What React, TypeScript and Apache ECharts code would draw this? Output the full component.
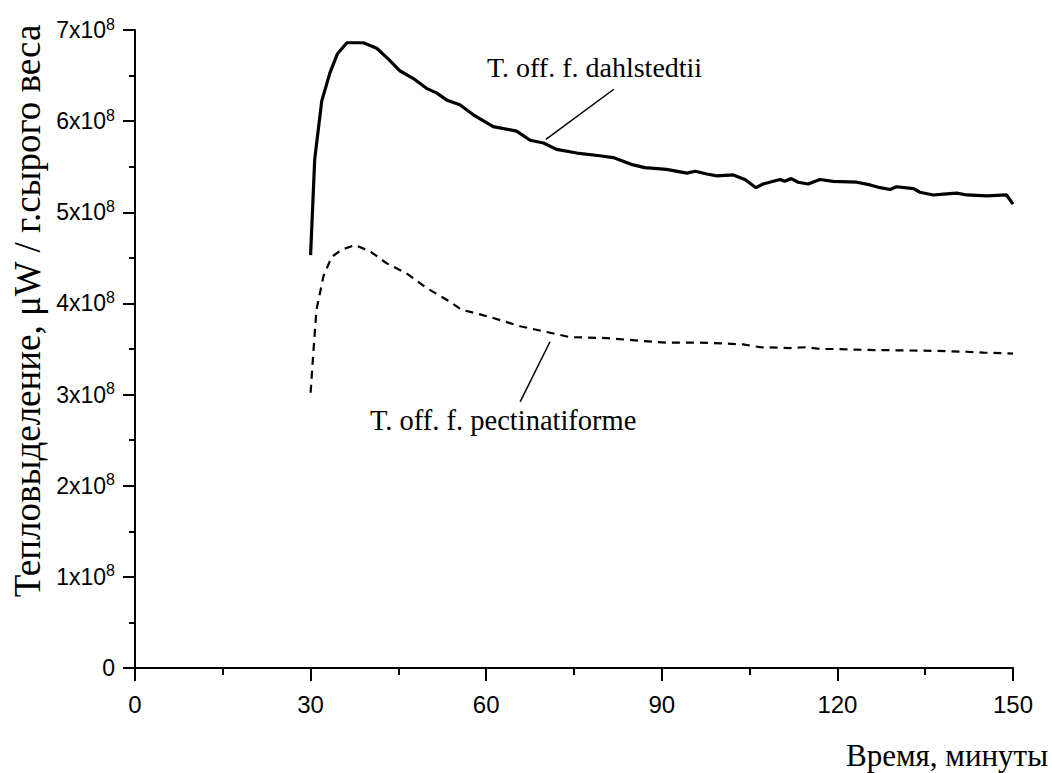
import React, { useEffect, useRef } from "react";
import * as echarts from "echarts";

// time (minutes), heat production (units of 1e8 µW / g fresh weight)
const dahlstedtiiTime = [
  30.0, 30.7, 31.9, 33.3, 34.6, 36.2, 39.0, 41.3, 43.3, 45.3, 47.5, 49.8, 51.5, 53.3, 55.5, 57.8,
  61.2, 65.2, 67.5, 69.8, 72.0, 75.5, 79.4, 81.7, 85.1, 87.1, 90.8, 94.3, 95.7, 97.7, 99.4, 102.2,
  104.2, 106.1, 107.3, 110.2, 111.0, 112.1, 113.3, 115.0, 117.0, 119.3, 123.3, 125.6, 127.3, 129.0,
  130.1, 133.0, 134.1, 136.4, 138.1, 140.4, 142.1, 145.5, 148.9, 150.0,
];
const dahlstedtiiValue = [
  4.53, 5.58, 6.22, 6.53, 6.74, 6.86, 6.86, 6.8, 6.68, 6.55, 6.47, 6.36, 6.31, 6.23, 6.18, 6.07,
  5.94, 5.89, 5.79, 5.76, 5.69, 5.65, 5.62, 5.6, 5.52, 5.49, 5.47, 5.43, 5.45, 5.42, 5.4, 5.41,
  5.36, 5.27, 5.31, 5.36, 5.34, 5.37, 5.33, 5.31, 5.36, 5.34, 5.33, 5.3, 5.27, 5.25,
  5.28, 5.26, 5.22, 5.19, 5.2, 5.21, 5.19, 5.18, 5.19, 5.09,
];

const pectinatiformeTime = [
  30.0, 30.5, 31.0, 32.2, 33.6, 35.3, 37.6, 40.2, 43.0, 46.4, 49.8, 53.8, 55.8, 58.4, 61.2, 65.8,
  71.5, 74.3, 80.6, 86.3, 90.8, 96.5, 101.1, 103.9, 106.8, 111.9, 114.8, 117.0, 119.3, 125.0,
  136.4, 142.1, 145.0, 150.0,
];
const pectinatiformeValue = [
  3.02, 3.49, 3.93, 4.3, 4.51, 4.59, 4.64, 4.57, 4.44, 4.33, 4.17, 4.02, 3.93, 3.89, 3.84, 3.75,
  3.67, 3.63, 3.62, 3.59, 3.57, 3.57, 3.56, 3.55, 3.52, 3.51, 3.52, 3.5, 3.5, 3.49,
  3.48, 3.47, 3.46, 3.45,
];

// leader lines (data coordinates): [from, to]
const dahlstedtiiLeader = [[70.2, 5.8], [81.8, 6.35]];
const pectinatiformeLeader = [[70.9, 3.58], [65.8, 2.92]];

const xTicks = { min: 0, max: 150, interval: 30 };
const yTicks = { min: 0, max: 7, interval: 1 };

const seriesNames = ["T. off. f. dahlstedtii", "T. off. f. pectinatiforme"];
const xTitle = "Время, минуты";
const yTitle = "Тепловыделение, \u03BCW / г.сырого веса";

const SANS = "'Liberation Sans Narrow', 'Liberation Sans', Arial, sans-serif";
const SERIF = "'Liberation Serif', 'Times New Roman', serif";

export default function App() {
  const ref = useRef<HTMLDivElement>(null);
  useEffect(() => {
    if (!ref.current) return;
    const chart = echarts.init(ref.current, undefined, { renderer: "svg" });
    const zip = (t: number[], v: number[]) => t.map((x, i) => [x, v[i]]);
    const axisLine = { show: true, onZero: false, lineStyle: { color: "#000", width: 2 } };
    chart.setOption({
      animation: false,
      backgroundColor: "#fff",
      grid: { left: 135, right: 39, top: 30, bottom: 105, containLabel: false },
      xAxis: {
        type: "value",
        min: xTicks.min,
        max: xTicks.max,
        interval: xTicks.interval,
        axisLine,
        axisTick: { show: true, length: 13, lineStyle: { color: "#000", width: 2 } },
        minorTick: { show: true, splitNumber: 2, length: 7, lineStyle: { color: "#000", width: 2 } },
        splitLine: { show: false },
        axisLabel: { color: "#000", fontFamily: SANS, fontSize: 24, margin: 24 },
      },
      yAxis: {
        type: "value",
        min: yTicks.min,
        max: yTicks.max,
        interval: yTicks.interval,
        axisLine,
        axisTick: { show: true, length: 12, lineStyle: { color: "#000", width: 2 } },
        minorTick: { show: true, splitNumber: 2, length: 6, lineStyle: { color: "#000", width: 2 } },
        splitLine: { show: false },
        axisLabel: {
          color: "#000",
          fontFamily: SANS,
          fontSize: 23,
          margin: 20,
          formatter: (v: number) => (v === 0 ? "0" : `${v}x10{sup|8}`),
          rich: {
            sup: { fontFamily: SANS, fontSize: 16, color: "#000", padding: [0, 0, 12, 0] },
          },
        },
      },
      series: [
        {
          name: seriesNames[0],
          type: "line",
          data: zip(dahlstedtiiTime, dahlstedtiiValue),
          showSymbol: false,
          symbol: "none",
          lineStyle: { color: "#000", width: 3.2 },
          markLine: {
            silent: true,
            symbol: ["none", "none"],
            label: { show: false },
            lineStyle: { color: "#000", width: 1.5, type: "solid" },
            data: [[{ coord: dahlstedtiiLeader[0] }, { coord: dahlstedtiiLeader[1] }]],
          },
        },
        {
          name: seriesNames[1],
          type: "line",
          data: zip(pectinatiformeTime, pectinatiformeValue),
          showSymbol: false,
          symbol: "none",
          lineStyle: { color: "#000", width: 2.2, type: [8, 6] },
          markLine: {
            silent: true,
            symbol: ["none", "none"],
            label: { show: false },
            lineStyle: { color: "#000", width: 1.5, type: "solid" },
            data: [[{ coord: pectinatiformeLeader[0] }, { coord: pectinatiformeLeader[1] }]],
          },
        },
      ],
      graphic: [
        {
          type: "text",
          x: 487,
          y: 67,
          style: { text: seriesNames[0], font: `28px ${SERIF}`, fill: "#000", textAlign: "left", textVerticalAlign: "middle" },
        },
        {
          type: "text",
          x: 370,
          y: 420,
          style: { text: seriesNames[1], font: `28.5px ${SERIF}`, fill: "#000", textAlign: "left", textVerticalAlign: "middle" },
        },
        {
          type: "text",
          x: 1048,
          y: 755,
          style: { text: xTitle, font: `31px ${SERIF}`, fill: "#000", textAlign: "right", textVerticalAlign: "middle" },
        },
        {
          type: "text",
          x: 27,
          y: 311,
          rotation: Math.PI / 2,
          style: { text: yTitle, font: `37px ${SERIF}`, fill: "#000", textAlign: "center", textVerticalAlign: "middle" },
        },
      ],
    });
    return () => chart.dispose();
  }, []);
  return (
    <div
      ref={ref}
      style={{ position: "fixed", left: 0, top: 0, width: 1052, height: 773, background: "#fff" }}
    />
  );
}
